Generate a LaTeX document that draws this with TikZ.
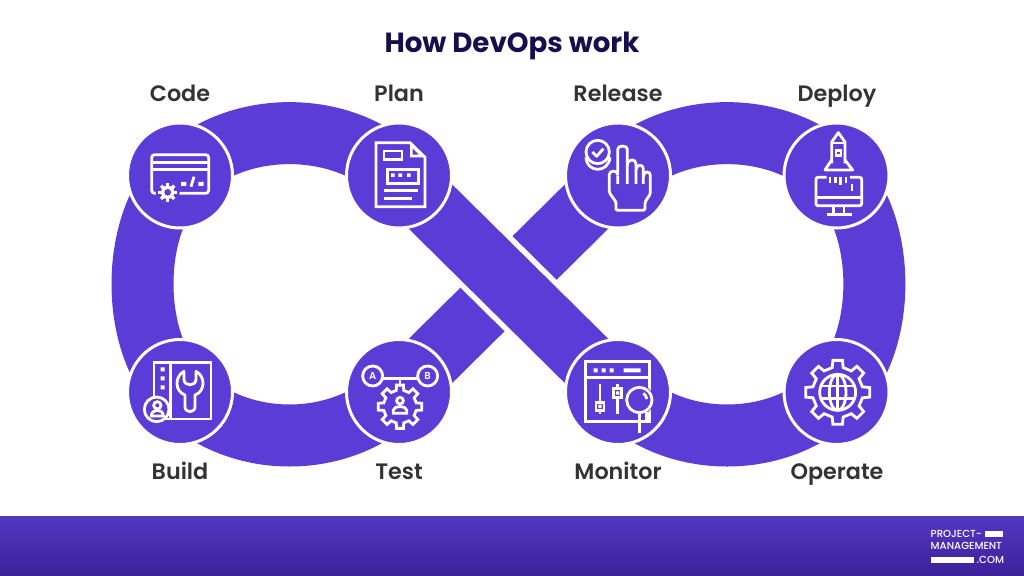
\documentclass[tikz,border=0pt]{standalone}
\usepackage{fontspec}
\setmainfont{Poppins}[BoldFont={Poppins SemiBold}]
\newfontfamily\titlefont{Poppins}[BoldFont={Poppins Bold}]
\newfontfamily\logofont{Poppins Medium}
\usetikzlibrary{calc}
\definecolor{brand}{HTML}{5B3CD6}
\definecolor{brandDark}{HTML}{3D2099}
\definecolor{titleInk}{HTML}{170F4D}
\definecolor{labelInk}{HTML}{333333}
\newcommand{\gearpts}[5]{% cx cy ro ri hw-outer
 ({#1+#3*cos(-#5)},{#2+#3*sin(-#5)})
 \foreach \gi in {0,45,...,315}{
  -- ({#1+#3*cos(\gi-#5)},{#2+#3*sin(\gi-#5)})
  -- ({#1+#3*cos(\gi+#5)},{#2+#3*sin(\gi+#5)})
  -- ({#1+#4*cos(\gi+#5+4)},{#2+#4*sin(\gi+#5+4)})
  -- ({#1+#4*cos(\gi+45-#5-4)},{#2+#4*sin(\gi+45-#5-4)})
 } -- cycle}
\tikzset{
 band/.style={draw=brand,line width=62pt,line cap=butt},
 gapline/.style={draw=white,line width=73pt,line cap=butt},
 hub/.style={circle,fill=brand,draw=white,line width=3pt,minimum size=105pt,inner sep=0pt},
 tag/.style={anchor=base,font=\fontsize{22.3}{24}\selectfont\bfseries,text=labelInk,inner sep=0pt},
 icon/.style={draw=white,line width=2.8pt,line join=miter},
 knock/.style={fill=brand,draw=white,line width=2.8pt},
 logotext/.style={anchor=base west,font=\logofont\fontsize{10.2}{11}\selectfont,text=white,inner sep=0pt},
 zoomA/.style={x=0.33333pt,y=-0.33333pt,xshift=100pt,yshift=-70pt},
 zoomB/.style={x=0.33333pt,y=-0.33333pt,xshift=100pt,yshift=-280pt},
 zoomC/.style={x=0.33333pt,y=-0.33333pt,xshift=550pt,yshift=-70pt},
 zoomD/.style={x=0.33333pt,y=-0.33333pt,xshift=550pt,yshift=-280pt},
}
\begin{document}
\begin{tikzpicture}[x=1pt,y=-1pt]
\useasboundingbox (0,0) rectangle (1024,575);
\shade[top color=brand!92!black,bottom color=brandDark] (0,516) rectangle (1024,575);

\coordinate (cCode) at (180,175.5);
\coordinate (cPlan) at (399,175.5);
\coordinate (cRelease) at (618,175.5);
\coordinate (cDeploy) at (836.5,175.5);
\coordinate (cBuild) at (180,392);
\coordinate (cTest) at (399,392);
\coordinate (cMonitor) at (618,392);
\coordinate (cOperate) at (836.5,392);

% crossing
\draw[band] (cTest) -- (cRelease);
\draw[gapline] (cPlan) -- (cMonitor);
\draw[band] (cPlan) -- (cMonitor);
% left loop
\draw[band] (cCode) .. controls (236,119) and (343,119) .. (cPlan);
\draw[band] (cCode) .. controls (130,226) and (130,342) .. (cBuild);
\draw[band] (cBuild) .. controls (238,450) and (341,450) .. (cTest);
% right loop
\draw[band] (cRelease) .. controls (674,119) and (780,119) .. (cDeploy);
\draw[band] (cDeploy) .. controls (887,226) and (887,342) .. (cOperate);
\draw[band] (cMonitor) .. controls (674,450) and (780,450) .. (cOperate);

\node[hub] (code) at (cCode) {};
\node[hub] (plan) at (cPlan) {};
\node[hub] (release) at (cRelease) {};
\node[hub] (deploy) at (cDeploy) {};
\node[hub] (build) at (cBuild) {};
\node[hub] (test) at (cTest) {};
\node[hub] (monitor) at (cMonitor) {};
\node[hub] (operate) at (cOperate) {};

% texts
\node[anchor=base,font=\titlefont\fontsize{27.7}{30}\selectfont\bfseries,text=titleInk,inner sep=0pt] (title) at (512,53) {How DevOps work};
\node[tag] (lCode) at (180,102) {Code};
\node[tag] (lPlan) at (399,102) {Plan};
\node[tag] (lRelease) at (618,102) {Release};
\node[tag] (lDeploy) at (837,102) {Deploy};
\node[tag] (lBuild) at (180,479.5) {Build};
\node[tag] (lTest) at (399,479.5) {Test};
\node[tag] (lMonitor) at (618,479.5) {Monitor};
\node[tag] (lOperate) at (837,479.5) {Operate};

% Code icon
\begin{scope}[zoomA]
 \draw[icon,rounded corners=3pt] (155,254) rectangle (326,370);
 \draw[icon] (155,278) -- (326,278) (155,298) -- (326,298);
 \fill[white] (243,336) rectangle (259,348) (295,336) rectangle (311,348);
 \draw[icon] (273,350) -- (282,320);
 \fill[brand] (203,367) circle (36);
 \fill[white] (203,367) circle (20);
 \foreach \a in {0,45,...,135}{\draw[white,line width=3.2pt] ($(203,367)+(\a:28)$) -- ($(203,367)+(\a+180:28)$);}
 \fill[brand] (203,367) circle (10);
\end{scope}

% Plan icon
\begin{scope}[zoomA]
 \draw[icon] (828,218) -- (930,218) -- (975,262) -- (975,410) -- (828,410) -- cycle;
 \fill[white] (930,218) -- (975,262) -- (930,262) -- cycle;
 \fill[brand] (938,236) -- (956,254) -- (938,254) -- cycle;
 \draw[icon] (852,243) rectangle (906,268);
 \draw[icon] (862,298) rectangle (955,340);
 \fill[white] (873,310) rectangle (884,321) (895,310) rectangle (906,321) (921,310) rectangle (932,321);
 \draw[icon] (852,361) -- (953,361) (852,385) -- (937,385);
\end{scope}

% Build icon
\begin{scope}[zoomB]
 \draw[icon] (162,248) rectangle (333,417);
 \draw[icon] (212,248) -- (212,417);
 \fill[white] (182,262) rectangle (194,274) (182,289) rectangle (194,301) (182,316) rectangle (194,328);
 \draw[icon,line join=round] (252,274) .. controls (222,290) and (225,335) .. (255,345) -- (255,380) .. controls (255,400) and (285,400) .. (285,380) -- (285,345) .. controls (315,335) and (318,290) .. (288,274) -- (288,298) .. controls (288,320) and (252,320) .. (252,298) -- cycle;
 \draw[knock] (170,388) circle (37);
 \draw[icon] (172,376) circle (11);
 \draw[icon] (154,408) .. controls (154,385) and (190,385) .. (190,408) -- cycle;
\end{scope}

% Test icon
\begin{scope}[zoomB]
 \draw[icon] (818,288) circle (30);
 \draw[icon] (983,288) circle (30);
 \node[font=\fontsize{10}{10}\selectfont\bfseries,text=white,inner sep=0pt] (letterA) at (818,289) {A};
 \node[font=\fontsize{10}{10}\selectfont\bfseries,text=white,inner sep=0pt] (letterB) at (983,289) {B};
 \draw[icon] (848,295) -- (953,295) (900,295) -- (900,322);
 \draw[icon] \gearpts{900}{380}{66}{50}{9};
 \draw[icon] (900,362) circle (10);
 \draw[icon] (880,400) -- (880,390) .. controls (882,376) and (918,376) .. (920,390) -- (920,400) -- cycle;
\end{scope}

% Release icon
\begin{scope}[zoomC]
 \draw[icon] (143,246) circle (35);
 \draw[icon] (108,262) .. controls (110,310) and (176,310) .. (180,262);
 \draw[icon,line join=round] (127,246) -- (140,259) -- (160,236);
 \draw[icon,line join=round,rounded corners=1.5pt] (198,421) -- (198,396) -- (178,368) -- (178,318) .. controls (178,300) and (203,300) .. (203,318) -- (203,242) .. controls (203,225) and (232,225) .. (232,242) -- (232,342) (232,286) .. controls (232,265) and (258,265) .. (258,286) -- (258,342) (258,300) .. controls (258,282) and (280,282) .. (280,300) -- (280,342) (280,320) .. controls (280,302) and (301,302) .. (301,320) -- (301,372) -- (285,396) -- (285,421) -- (198,421) -- (198,396) (203,318) -- (203,342);
\end{scope}

% Deploy icon
\begin{scope}[zoomC]
 \draw[icon,line join=round] (845,280) -- (845,216) -- (865,188) -- (885,216) -- (885,280);
 \draw[icon] (845,219) -- (885,219);
 \draw[icon] (858,241) rectangle (873,256);
 \draw[icon,line join=round] (845,270) -- (825,300) -- (908,300) -- (885,270);
 \draw[icon,rounded corners=2pt] (830,322) -- (798,322) -- (798,407) -- (935,407) -- (935,322) -- (900,322);
 \draw[icon] (798,383) -- (935,383);
 \draw[icon] (840,322) -- (840,338) (856,322) -- (856,338) (872,322) -- (872,345) (888,322) -- (888,338) (906,342) -- (906,362);
 \draw[icon] (850,407) -- (850,432) (882,407) -- (882,432) (830,433) -- (905,433);
\end{scope}

% Monitor icon
\begin{scope}[zoomD]
 \draw[icon] (106,245) rectangle (298,425);
 \draw[icon] (106,292) -- (298,292);
 \fill[white] (131,265) rectangle (143,277) (155,265) rectangle (167,277) (179,265) rectangle (191,277) (221,265) rectangle (272,277);
 \draw[icon] (150,313) -- (150,403) (203,313) -- (203,403);
 \draw[knock] (138,367) rectangle (162,391);
 \draw[knock] (191,325) rectangle (215,353);
 \fill[white] (145,374) rectangle (155,384) (198,334) rectangle (208,344);
 \fill[brand] (266,360) circle (46);
 \draw[icon] (268,360) circle (38);
 \draw[icon] (268,398) -- (268,458);
 \draw[icon] (280,340) arc (-60:0:20);
 \draw[icon] (290,397) -- (290,425);
\end{scope}

% Operate icon
\begin{scope}[zoomD]
 \draw[icon] \gearpts{863}{337}{97}{76}{8.5};
 \draw[icon] (863,337) circle (54);
 \draw[icon] (863,337) ellipse (25 and 54);
 \draw[icon] (863,283) -- (863,391) (815,318) -- (911,318) (815,356) -- (911,356);
\end{scope}

% logo
\node[logotext] (logoA) at (930.5,537.3) {PROJECT-};
\node[logotext] (logoB) at (930.5,549.5) {MANAGEMENT};
\node[logotext] (logoC) at (976.5,563.3) {.COM};
\fill[white] (985,530.7) rectangle (1003.3,536.8);
\fill[white] (930.7,556.7) rectangle (974,563.3);
\end{tikzpicture}
\end{document}
